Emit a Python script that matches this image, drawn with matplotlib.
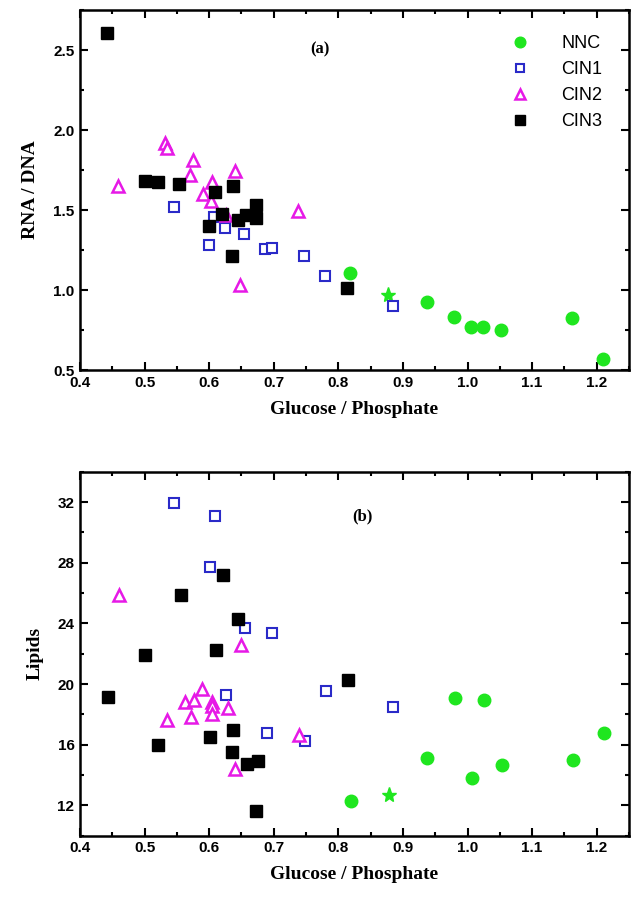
import matplotlib
matplotlib.use("Agg")
import matplotlib.pyplot as plt
from matplotlib.ticker import MultipleLocator

# panel (a): RNA / DNA vs Glucose / Phosphate
nnc_x_a = [0.818, 0.937, 0.979, 1.006, 1.024, 1.052, 1.162, 1.210]
nnc_y_a = [1.106, 0.926, 0.832, 0.766, 0.766, 0.749, 0.822, 0.569]
star_x_a = [0.877]
star_y_a = [0.967]
cin1_x_a = [0.545, 0.608, 0.625, 0.654, 0.600, 0.686, 0.697, 0.747, 0.779, 0.884]
cin1_y_a = [1.517, 1.455, 1.389, 1.352, 1.279, 1.258, 1.262, 1.212, 1.086, 0.900]
cin2_x_a = [0.459, 0.532, 0.535, 0.575, 0.570, 0.604, 0.590, 0.603, 0.626, 0.640, 0.738, 0.648]
cin2_y_a = [1.648, 1.922, 1.890, 1.810, 1.720, 1.673, 1.600, 1.559, 1.466, 1.746, 1.493, 1.034]
cin3_x_a = [0.442, 0.500, 0.521, 0.554, 0.609, 0.637, 0.672, 0.620, 0.657, 0.672, 0.644, 0.600, 0.635, 0.813]
cin3_y_a = [2.608, 1.680, 1.673, 1.663, 1.615, 1.650, 1.534, 1.476, 1.466, 1.451, 1.435, 1.403, 1.212, 1.015]

# panel (b): Lipids vs Glucose / Phosphate
nnc_x_b = [0.820, 0.938, 0.980, 1.025, 1.007, 1.053, 1.164, 1.212]
nnc_y_b = [12.3, 15.1, 19.1, 18.94, 13.83, 14.64, 15.0, 16.75]
star_x_b = [0.879]
star_y_b = [12.67]
cin1_x_b = [0.546, 0.609, 0.602, 0.656, 0.697, 0.626, 0.689, 0.748, 0.781, 0.885]
cin1_y_b = [31.97, 31.1, 27.69, 23.7, 23.34, 19.27, 16.78, 16.27, 19.51, 18.5]
cin2_x_b = [0.460, 0.649, 0.589, 0.563, 0.576, 0.604, 0.605, 0.605, 0.629, 0.572, 0.535, 0.640, 0.739]
cin2_y_b = [25.85, 22.6, 19.7, 18.85, 18.94, 18.79, 18.57, 18.03, 18.42, 17.85, 17.63, 14.42, 16.67]
cin3_x_b = [0.621, 0.556, 0.645, 0.500, 0.610, 0.443, 0.521, 0.602, 0.637, 0.635, 0.659, 0.675, 0.673, 0.815]
cin3_y_b = [27.16, 25.9, 24.26, 21.9, 22.24, 19.16, 16.01, 16.54, 17.0, 15.55, 14.75, 14.9, 11.62, 20.26]

GREEN = '#1fe61f'
BLUE = '#2a2ac8'
MAGENTA = '#e619e6'

tick_font = {'family': 'Liberation Sans', 'weight': 'bold', 'size': 11}
label_font = {'family': 'Liberation Serif', 'weight': 'bold', 'size': 14}

fig = plt.figure(figsize=(6.31, 8.97), dpi=100)
ax_a = fig.add_axes([0.1268, 0.5875, 0.870, 0.4013])
ax_b = fig.add_axes([0.1268, 0.0683, 0.870, 0.4058])


def draw(ax, nx, ny, sx, sy, c1x, c1y, c2x, c2y, c3x, c3y):
    ax.plot(nx, ny, 'o', color=GREEN, ms=9, mec=GREEN, label='NNC')
    ax.plot(sx, sy, '*', color=GREEN, ms=11, mec=GREEN)
    ax.plot(c1x, c1y, 's', mfc='white', mec=BLUE, mew=1.5, ms=7.5, label='CIN1')
    ax.plot(c2x, c2y, '^', mfc='white', mec=MAGENTA, mew=1.8, ms=9, label='CIN2')
    ax.plot(c3x, c3y, 's', color='black', ms=8, label='CIN3')


draw(ax_a, nnc_x_a, nnc_y_a, star_x_a, star_y_a, cin1_x_a, cin1_y_a,
     cin2_x_a, cin2_y_a, cin3_x_a, cin3_y_a)
draw(ax_b, nnc_x_b, nnc_y_b, star_x_b, star_y_b, cin1_x_b, cin1_y_b,
     cin2_x_b, cin2_y_b, cin3_x_b, cin3_y_b)

ax_a.set_ylim(0.5, 2.75)
ax_a.yaxis.set_major_locator(MultipleLocator(0.5))
ax_a.yaxis.set_minor_locator(MultipleLocator(0.25))
ax_a.set_ylabel('RNA / DNA', fontdict=label_font, labelpad=10)
ax_a.text(0.437, 0.89, '(a)', transform=ax_a.transAxes, ha='center', va='center',
          fontdict={'family': 'Liberation Serif', 'weight': 'bold', 'size': 12})
leg = ax_a.legend(loc='upper right', bbox_to_anchor=(0.975, 0.965), frameon=False,
                  numpoints=1, markerscale=0.85,
                  prop={'family': 'Liberation Sans', 'size': 13},
                  handletextpad=1.3, labelspacing=0.5, borderaxespad=0.3)

ax_b.set_ylim(10, 34)
ax_b.yaxis.set_major_locator(MultipleLocator(4))
ax_b.yaxis.set_minor_locator(MultipleLocator(2))
ax_b.set_ylabel('Lipids', fontdict=label_font, labelpad=10)
ax_b.text(0.515, 0.878, '(b)', transform=ax_b.transAxes, ha='center', va='center',
          fontdict={'family': 'Liberation Serif', 'weight': 'bold', 'size': 12})

for ax in (ax_a, ax_b):
    ax.set_xlim(0.4, 1.25)
    ax.xaxis.set_major_locator(MultipleLocator(0.1))
    ax.xaxis.set_minor_locator(MultipleLocator(0.05))
    ax.tick_params(which='both', direction='in', top=True, right=True, width=1.5)
    ax.tick_params(which='major', length=6, pad=4)
    ax.tick_params(which='minor', length=3)
    for lab in ax.get_xticklabels() + ax.get_yticklabels():
        lab.set_fontproperties(tick_font)
    ax.set_xlabel('Glucose / Phosphate', fontdict=label_font, labelpad=8)
    for sp in ax.spines.values():
        sp.set_linewidth(1.8)

fig.savefig('out.png', dpi=100)
